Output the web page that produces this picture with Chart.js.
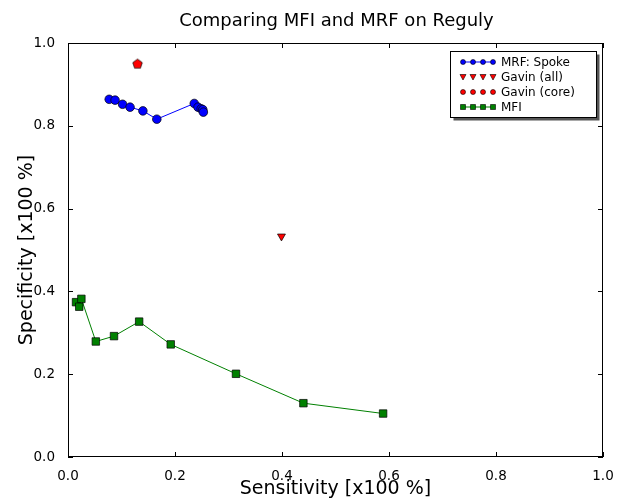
<!DOCTYPE html>
<html>
<head>
<meta charset="utf-8">
<script src="https://cdn.jsdelivr.net/npm/chart.js@4.4.1/dist/chart.umd.min.js"></script>
<style>
  body { margin: 0; background: #fff; }
  canvas { display: block; }
</style>
</head>
<body>
<canvas id="chart" width="617" height="500"></canvas>
<script>
// values
var mrfX = [0.077, 0.088, 0.102, 0.116, 0.140, 0.166, 0.236, 0.243, 0.249, 0.252, 0.253];
var mrfY = [0.864, 0.862, 0.852, 0.845, 0.836, 0.816, 0.854, 0.845, 0.841, 0.839, 0.833];

var gavinAllX = [0.399];
var gavinAllY = [0.533];

var gavinCoreX = [0.130];
var gavinCoreY = [0.949];

var mfiX = [0.015, 0.021, 0.025, 0.052, 0.086, 0.133, 0.192, 0.314, 0.440, 0.589];
var mfiY = [0.374, 0.363, 0.382, 0.279, 0.292, 0.327, 0.272, 0.201, 0.130, 0.105];

var tickValues = [0, 0.2, 0.4, 0.6, 0.8, 1.0];

var legendNames = ['MRF: Spoke', 'Gavin (all)', 'Gavin (core)', 'MFI'];

function toPoints(xs, ys) {
    var pts = [];
    for (var i = 0; i < xs.length; i++) {
        pts.push({ x: xs[i], y: ys[i] });
    }
    return pts;
}

// pentagon marker for Gavin (core)
function makePentagon(r) {
    var c = document.createElement('canvas');
    var s = Math.ceil(r * 2 + 3);
    c.width = s;
    c.height = s;
    var g = c.getContext('2d');
    g.beginPath();
    for (var i = 0; i < 5; i++) {
        var a = -Math.PI / 2 + i * 2 * Math.PI / 5;
        var px = s / 2 + r * Math.cos(a);
        var py = s / 2 + r * Math.sin(a);
        if (i == 0) g.moveTo(px, py); else g.lineTo(px, py);
    }
    g.closePath();
    g.fillStyle = '#ff0000';
    g.fill();
    g.strokeStyle = '#000';
    g.lineWidth = 0.7;
    g.stroke();
    return c;
}
var pentagon = makePentagon(5);

var FONT = '"DejaVu Sans", Verdana, sans-serif';

// frame, inward ticks, titles and the matplotlib-style legend
var decorations = {
    id: 'decorations',
    afterDraw: function (chart) {
        var ctx = chart.ctx;
        var a = chart.chartArea;
        var sx = chart.scales.x;
        var sy = chart.scales.y;
        ctx.save();

        ctx.strokeStyle = '#000';
        ctx.lineWidth = 1;
        ctx.strokeRect(a.left + 0.5, a.top + 0.5, a.right - a.left - 1, a.bottom - a.top - 1);

        ctx.beginPath();
        tickValues.forEach(function (v) {
            var px = Math.round(sx.getPixelForValue(v)) + 0.5;
            ctx.moveTo(px, a.bottom);
            ctx.lineTo(px, a.bottom - 5);
            ctx.moveTo(px, a.top);
            ctx.lineTo(px, a.top + 5);
            var py = Math.round(sy.getPixelForValue(v)) + 0.5;
            ctx.moveTo(a.left, py);
            ctx.lineTo(a.left + 5, py);
            ctx.moveTo(a.right, py);
            ctx.lineTo(a.right - 5, py);
        });
        ctx.stroke();

        ctx.fillStyle = '#000';
        ctx.textAlign = 'center';
        ctx.textBaseline = 'alphabetic';
        ctx.font = '18px ' + FONT;
        ctx.fillText('Comparing MFI and MRF on Reguly', (a.left + a.right) / 2 + 1, 26);

        ctx.font = '19px ' + FONT;
        ctx.fillText('Sensitivity [x100 %]', (a.left + a.right) / 2, 494);

        ctx.save();
        ctx.translate(32, (a.top + a.bottom) / 2);
        ctx.rotate(-Math.PI / 2);
        ctx.fillText('Specificity [x100 %]', 0, 0);
        ctx.restore();

        // legend box with shadow
        var bx = 450.5, by = 51.5, bw = 146, bh = 66;
        ctx.fillStyle = '#555';
        ctx.fillRect(bx + 3, by + 3, bw, bh);
        ctx.fillStyle = '#fff';
        ctx.fillRect(bx, by, bw, bh);
        ctx.strokeStyle = '#000';
        ctx.strokeRect(bx, by, bw, bh);

        var rows = [62, 77, 92, 107];
        var mx = [463, 473, 483, 493];
        ctx.font = '12px ' + FONT;
        ctx.textAlign = 'left';
        ctx.textBaseline = 'middle';
        rows.forEach(function (ry, k) {
            if (k == 0 || k == 3) {
                ctx.strokeStyle = k == 0 ? '#0000ff' : '#008000';
                ctx.beginPath();
                ctx.moveTo(mx[0], ry);
                ctx.lineTo(mx[3], ry);
                ctx.stroke();
            }
            mx.forEach(function (x0) {
                ctx.beginPath();
                if (k == 0 || k == 2) {
                    ctx.arc(x0, ry, 2.5, 0, Math.PI * 2);
                    ctx.fillStyle = k == 0 ? '#0000ff' : '#ff0000';
                } else if (k == 1) {
                    ctx.moveTo(x0 - 3, ry - 2.5);
                    ctx.lineTo(x0 + 3, ry - 2.5);
                    ctx.lineTo(x0, ry + 3);
                    ctx.closePath();
                    ctx.fillStyle = '#ff0000';
                } else {
                    ctx.rect(x0 - 2.5, ry - 2.5, 5, 5);
                    ctx.fillStyle = '#008000';
                }
                ctx.fill();
                ctx.strokeStyle = '#000';
                ctx.lineWidth = 0.6;
                ctx.stroke();
                ctx.lineWidth = 1;
            });
            ctx.fillStyle = '#000';
            ctx.fillText(legendNames[k], 501, ry + 0.5);
        });

        ctx.restore();
    }
};

function tickLabel(v) {
    return Number(v).toFixed(1);
}

new Chart(document.getElementById('chart'), {
    type: 'scatter',
    data: {
        datasets: [
            {
                label: legendNames[0],
                data: toPoints(mrfX, mrfY),
                showLine: true,
                borderColor: '#0000ff',
                borderWidth: 1,
                pointStyle: 'circle',
                pointRadius: 4.3,
                pointBackgroundColor: '#0000ff',
                pointBorderColor: '#000',
                pointBorderWidth: 0.7
            },
            {
                label: legendNames[1],
                data: toPoints(gavinAllX, gavinAllY),
                showLine: false,
                pointStyle: 'triangle',
                rotation: 180,
                pointRadius: 4.6,
                pointBackgroundColor: '#ff0000',
                pointBorderColor: '#000',
                pointBorderWidth: 0.7
            },
            {
                label: legendNames[2],
                data: toPoints(gavinCoreX, gavinCoreY),
                showLine: false,
                pointStyle: pentagon,
                pointRadius: 5
            },
            {
                label: legendNames[3],
                data: toPoints(mfiX, mfiY),
                showLine: true,
                borderColor: '#008000',
                borderWidth: 1,
                pointStyle: 'rect',
                pointRadius: 5.3,
                pointBackgroundColor: '#008000',
                pointBorderColor: '#000',
                pointBorderWidth: 0.7
            }
        ]
    },
    options: {
        responsive: false,
        animation: false,
        layout: {
            padding: { top: 43, right: 14, left: 0, bottom: 0 }
        },
        plugins: {
            legend: { display: false },
            tooltip: { enabled: false },
            title: { display: false }
        },
        scales: {
            x: {
                type: 'linear',
                min: 0,
                max: 1,
                afterFit: function (scale) { scale.height = 43; },
                afterBuildTicks: function (scale) {
                    scale.ticks = tickValues.map(function (v) { return { value: v }; });
                },
                grid: { display: false },
                border: { display: false },
                ticks: {
                    padding: 3,
                    color: '#000',
                    font: { family: FONT, size: 13.5 },
                    maxRotation: 0,
                    callback: tickLabel
                }
            },
            y: {
                type: 'linear',
                min: 0,
                max: 1,
                afterFit: function (scale) { scale.width = 68; },
                afterBuildTicks: function (scale) {
                    scale.ticks = tickValues.map(function (v) { return { value: v }; });
                },
                grid: { display: false },
                border: { display: false },
                ticks: {
                    padding: 5,
                    color: '#000',
                    font: { family: FONT, size: 13.5 },
                    callback: tickLabel
                }
            }
        }
    },
    plugins: [decorations]
});
</script>
</body>
</html>
